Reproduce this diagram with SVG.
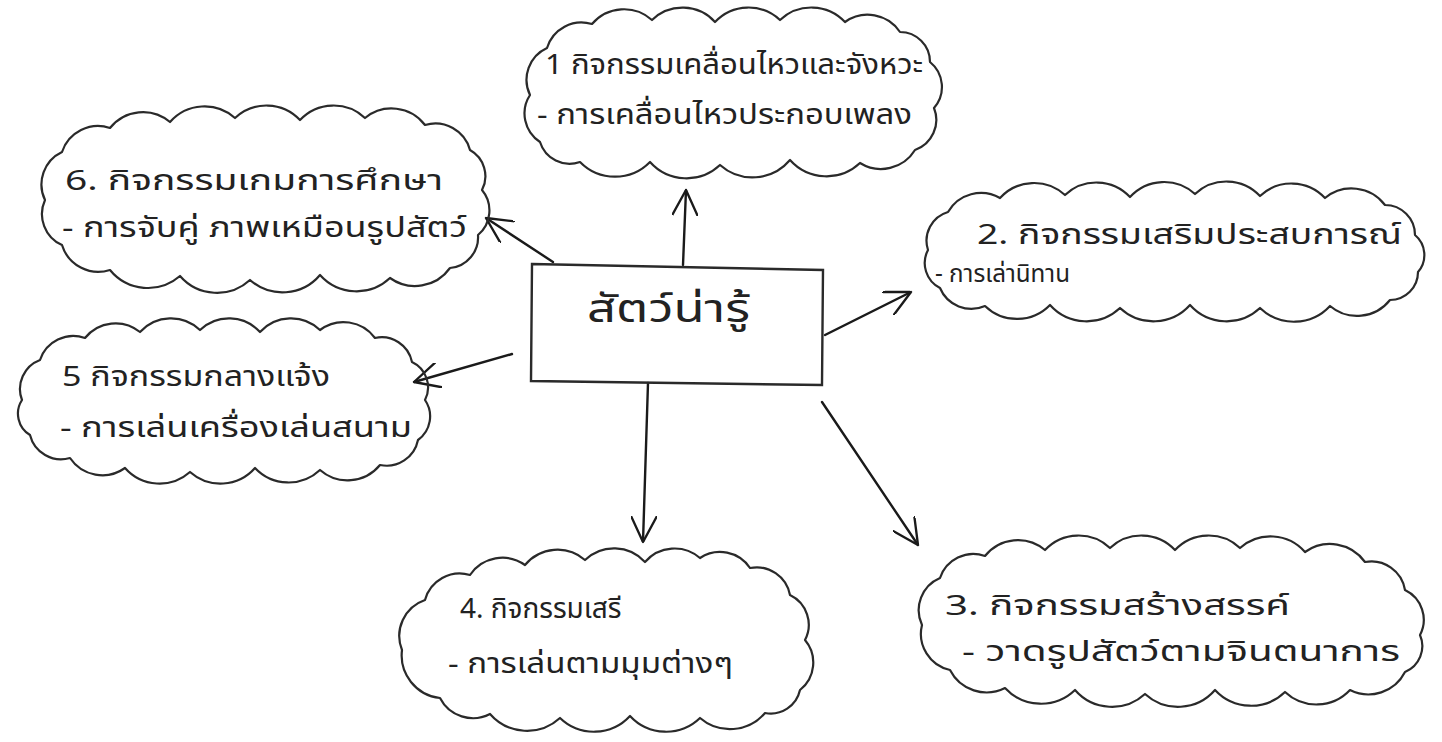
<svg xmlns="http://www.w3.org/2000/svg" width="1442" height="742" viewBox="0 0 1442 742">
<style>
.cloud{fill:none;stroke:#2a2a2a;stroke-width:2.2;stroke-linejoin:round;stroke-linecap:round}
.box{fill:none;stroke:#2a2a2a;stroke-width:2.4}
.t{font-family:"Noto Sans Thai","Noto Sans","DejaVu Sans",sans-serif;font-size:28px;fill:#222}
.c{font-family:"Noto Sans Thai","Noto Sans","DejaVu Sans",sans-serif;font-size:40px;fill:#222}
.arr{fill:none;stroke:#1a1a1a;stroke-width:2.4;stroke-linecap:round;marker-end:url(#v)}
</style>
<defs>
<marker id="v" viewBox="0 0 10 10" refX="10" refY="5" markerWidth="26" markerHeight="26" markerUnits="userSpaceOnUse" orient="auto">
<path d="M0,0 L10,5 L0,10" fill="none" stroke="#1a1a1a" stroke-width="0.9" stroke-linecap="round" stroke-linejoin="round"/>
</marker>
</defs>
<rect width="1442" height="742" fill="#ffffff"/>

<g id="connectors">
<path class="arr" d="M683,265 L686,190"/>
<path class="arr" d="M553,262 L486,218"/>
<path class="arr" d="M825,335 L911,292"/>
<path class="arr" d="M512,354 L414,382"/>
<path class="arr" d="M648,383 L643,542"/>
<path class="arr" d="M822,402 L918,545"/>
</g>

<g id="center">
<path class="box" d="M532,264 L823,270 L822,385 L531,381 Z"/>
<text class="c" x="587" y="322" textLength="163" lengthAdjust="spacingAndGlyphs">สัตว์น่ารู้</text>
</g>

<g id="node1">
<path class="cloud" d="M530,95 A35,35 0 0 1 547,48 A36,36 0 0 1 592,24 A42,42 0 0 1 652,20 A44,44 0 0 1 715,22 A46,46 0 0 1 780,20 A46,46 0 0 1 845,22 A39,39 0 0 1 900,32 A30,30 0 0 1 930,62 A32,32 0 0 1 934,108 A32,32 0 0 1 915,150 A40,40 0 0 1 860,163 A49,49 0 0 1 790,160 A49,49 0 0 1 720,165 A49,49 0 0 1 650,162 A49,49 0 0 1 580,162 A31,31 0 0 1 540,142 A34,34 0 0 1 530,95 Z"/>
<text class="t" x="545" y="74" textLength="378" lengthAdjust="spacingAndGlyphs">1 กิจกรรมเคลื่อนไหวและจังหวะ</text>
<text class="t" x="537" y="124" textLength="375" lengthAdjust="spacingAndGlyphs">- การเคลื่อนไหวประกอบเพลง</text>
</g>

<g id="node6">
<path class="cloud" d="M45,200 A36,36 0 0 1 62,152 A38,38 0 0 1 110,128 A42,42 0 0 1 170,122 A46,46 0 0 1 235,118 A46,46 0 0 1 300,120 A46,46 0 0 1 365,118 A42,42 0 0 1 425,125 A36,36 0 0 1 470,150 A30,30 0 0 1 482,190 A32,32 0 0 1 478,235 A31,31 0 0 1 450,268 A43,43 0 0 1 390,278 A49,49 0 0 1 320,275 A49,49 0 0 1 250,280 A49,49 0 0 1 180,276 A49,49 0 0 1 110,270 A38,38 0 0 1 62,245 A34,34 0 0 1 45,200 Z"/>
<text class="t" x="65" y="190" textLength="378" lengthAdjust="spacingAndGlyphs">6. กิจกรรมเกมการศึกษา</text>
<text class="t" x="62" y="237" textLength="405" lengthAdjust="spacingAndGlyphs">- การจับคู่ ภาพเหมือนรูปสัตว์</text>
</g>

<g id="node2">
<path class="cloud" d="M928,250 A30,30 0 0 1 948,212 A38,38 0 0 1 1000,198 A46,46 0 0 1 1065,195 A46,46 0 0 1 1130,197 A46,46 0 0 1 1195,194 A46,46 0 0 1 1260,196 A46,46 0 0 1 1325,198 A42,42 0 0 1 1385,205 A30,30 0 0 1 1415,235 A26,26 0 0 1 1418,272 A28,28 0 0 1 1390,300 A42,42 0 0 1 1330,306 A49,49 0 0 1 1260,308 A49,49 0 0 1 1190,305 A49,49 0 0 1 1120,308 A49,49 0 0 1 1050,305 A46,46 0 0 1 985,306 A34,34 0 0 1 940,288 A28,28 0 0 1 928,250 Z"/>
<text class="t" x="977" y="244" textLength="425" lengthAdjust="spacingAndGlyphs">2. กิจกรรมเสริมประสบการณ์</text>
<text class="t" x="935" y="282" font-size="25" textLength="135" lengthAdjust="spacingAndGlyphs" style="font-size:25px">- การเล่านิทาน</text>
</g>

<g id="node5">
<path class="cloud" d="M22,400 A31,31 0 0 1 40,360 A35,35 0 0 1 85,338 A39,39 0 0 1 140,332 A42,42 0 0 1 200,330 A42,42 0 0 1 260,332 A42,42 0 0 1 320,330 A39,39 0 0 1 375,338 A31,31 0 0 1 412,362 A28,28 0 0 1 425,400 A29,29 0 0 1 418,440 A32,32 0 0 1 380,465 A42,42 0 0 1 320,470 A46,46 0 0 1 255,468 A46,46 0 0 1 190,472 A46,46 0 0 1 125,468 A39,39 0 0 1 70,458 A32,32 0 0 1 30,435 A25,25 0 0 1 22,400 Z"/>
<text class="t" x="62" y="386" textLength="268" lengthAdjust="spacingAndGlyphs">5 กิจกรรมกลางแจ้ง</text>
<text class="t" x="60" y="437" textLength="352" lengthAdjust="spacingAndGlyphs">- การเล่นเครื่องเล่นสนาม</text>
</g>

<g id="node3">
<path class="cloud" d="M922,625 A35,35 0 0 1 940,578 A35,35 0 0 1 985,556 A42,42 0 0 1 1045,550 A46,46 0 0 1 1110,548 A46,46 0 0 1 1175,550 A46,46 0 0 1 1240,548 A46,46 0 0 1 1305,552 A43,43 0 0 1 1365,562 A34,34 0 0 1 1405,590 A33,33 0 0 1 1420,635 A28,28 0 0 1 1405,672 A41,41 0 0 1 1350,690 A46,46 0 0 1 1285,692 A49,49 0 0 1 1215,690 A49,49 0 0 1 1145,694 A49,49 0 0 1 1075,690 A49,49 0 0 1 1005,688 A41,41 0 0 1 950,670 A37,37 0 0 1 922,625 Z"/>
<text class="t" x="945" y="615" textLength="345" lengthAdjust="spacingAndGlyphs">3. กิจกรรมสร้างสรรค์</text>
<text class="t" x="962" y="661" textLength="438" lengthAdjust="spacingAndGlyphs">- วาดรูปสัตว์ตามจินตนาการ</text>
</g>

<g id="node4">
<path class="cloud" d="M402,650 A38,38 0 0 1 425,600 A36,36 0 0 1 470,575 A39,39 0 0 1 525,565 A42,42 0 0 1 585,560 A42,42 0 0 1 645,562 A39,39 0 0 1 700,558 A36,36 0 0 1 750,568 A34,34 0 0 1 790,595 A33,33 0 0 1 805,640 A35,35 0 0 1 800,690 A30,30 0 0 1 765,713 A46,46 0 0 1 700,718 A49,49 0 0 1 630,716 A49,49 0 0 1 560,718 A49,49 0 0 1 490,714 A37,37 0 0 1 440,698 A43,43 0 0 1 402,650 Z"/>
<text class="t" x="460" y="618">4. กิจกรรมเสรี</text>
<text class="t" x="448" y="673" textLength="285" lengthAdjust="spacingAndGlyphs">- การเล่นตามมุมต่างๆ</text>
</g>
</svg>
